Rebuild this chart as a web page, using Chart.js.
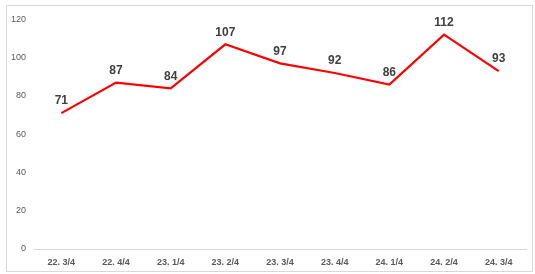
<!DOCTYPE html>
<html><head><meta charset="utf-8">
<script src="https://cdn.jsdelivr.net/npm/chart.js@4/dist/chart.umd.min.js"></script>
<style>
html,body{margin:0;padding:0;background:#fff;}
#wrap{position:absolute;left:6px;top:5px;width:525px;height:265px;border:1px solid #d9d9d9;}
canvas{display:block;}
</style></head><body>
<div id="wrap"><canvas id="c" width="525" height="265"></canvas></div>
<script>
const categories = ["22. 3/4","22. 4/4","23. 1/4","23. 2/4","23. 3/4","23. 4/4","24. 1/4","24. 2/4","24. 3/4"];
const values = [71,87,84,107,97,92,86,112,93];
const yTicks = [0,20,40,60,80,100,120];

const labelPlugin = {
  id:'lbl',
  afterDatasetsDraw(chart){
    const ctx = chart.ctx;
    const meta = chart.getDatasetMeta(0);
    ctx.save();
    ctx.font = 'bold 12px "Liberation Sans", Arial, sans-serif';
    ctx.fillStyle = '#404040';
    ctx.textAlign = 'center';
    ctx.textBaseline = 'bottom';
    meta.data.forEach((p,i)=>{
      ctx.fillText(String(values[i]), p.x, p.y - 6);
    });
    ctx.restore();
  }
};

new Chart(document.getElementById('c'), {
  type:'line',
  data:{labels:categories, datasets:[{data:values, borderColor:'#ff0000', borderWidth:2.2, pointRadius:0, tension:0, fill:false}]},
  options:{
    responsive:false, animation:false,
    layout:{padding:{top:9,right:6,left:0,bottom:0}},
    plugins:{legend:{display:false}, tooltip:{enabled:false}},
    scales:{
      x:{
        offset:true,
        grid:{display:false, drawTicks:false},
        border:{display:true, color:'#d9d9d9', width:1},
        ticks:{padding:8, color:'#595959', font:{size:9, weight:'bold', family:'"Liberation Sans", Arial, sans-serif'}, maxRotation:0, autoSkip:false},
        afterFit(s){ s.height = 22; }
      },
      y:{
        min:0, max:120,
        afterBuildTicks(s){ s.ticks = yTicks.map(v=>({value:v})); },
        grid:{display:false, drawTicks:false},
        border:{display:false},
        ticks:{padding:8, color:'#595959', font:{size:9, family:'"Liberation Sans", Arial, sans-serif'}},
        afterFit(s){ s.width = 27; }
      }
    }
  },
  plugins:[labelPlugin]
});
</script>
</body></html>
